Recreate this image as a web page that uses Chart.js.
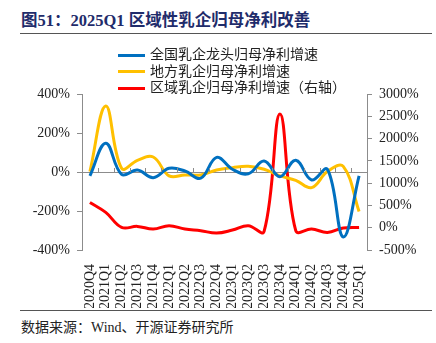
<!DOCTYPE html>
<html lang="zh">
<head>
  <meta charset="UTF-8">
  <title>图51</title>
  <script src="https://cdn.jsdelivr.net/npm/chart.js"></script>
  <style>
    body { margin: 0; width: 436px; height: 343px; background: #fff; position: relative; overflow: hidden; }
    .title { position: absolute; left: 21px; top: 7px; font: bold 16.5px "Liberation Serif", "Noto Sans CJK SC", serif; color: #1f2c6b; white-space: nowrap; }
    .rule { position: absolute; left: 20px; width: 412px; height: 1px; background: #555; }
    .src { position: absolute; left: 21px; top: 316px; font: 14px "Liberation Serif", "Noto Sans CJK SC", serif; color: #222; white-space: nowrap; }
    #wrap { position: absolute; left: 0; top: 40px; width: 436px; height: 268px; }
    #legend { position: absolute; left: 118px; top: 45px; font: 14px "Noto Sans CJK SC", sans-serif; color: #222; }
    #legend div { height: 16.5px; line-height: 16.5px; white-space: nowrap; }
    #legend i { display: inline-block; width: 27px; height: 3px; vertical-align: middle; margin-right: 5px; }
  </style>
</head>
<body>
  <div class="title">图51：2025Q1 区域性乳企归母净利改善</div>
  <div class="rule" style="top:33px"></div>
  <div id="wrap"><canvas id="c"></canvas></div>
  <div id="legend"></div>
  <div class="rule" style="top:310px"></div>
  <div class="src">数据来源：Wind、开源证券研究所</div>
  <script>
    const quarters = ['2020Q4','2021Q1','2021Q2','2021Q3','2021Q4','2022Q1','2022Q2','2022Q3','2022Q4',
                      '2023Q1','2023Q2','2023Q3','2023Q4','2024Q1','2024Q2','2024Q3','2024Q4','2025Q1'];
    const nationalLeaders = [-20,147,-12,10,-29,19,5,-32,75,14,-9,56,-24,60,-41,14,-333,-20];
    const localDairy = [2,338,19,60,77,-20,-15,-15,10,22,29,14,-20,-43,-80,2,29,-203];
    const regionalDairy = [567,343,7,30,-30,45,-30,-67,-120,-52,45,-83,2549,-67,-30,-105,-7,7];
    const seriesNames = ['全国乳企龙头归母净利增速','地方乳企归母净利增速','区域乳企归母净利增速（右轴）'];
    const seriesColors = ['#0070c0','#ffc000','#ff0000'];

    const axisGray = '#8c8c8c';
    const tickFont = { family: 'Liberation Serif', size: 14 };

    // little upward ticks on the zero line between categories
    const zeroTicks = {
      id: 'zeroTicks',
      afterDatasetsDraw(chart) {
        const x = chart.scales.x, y = chart.scales.y, ctx = chart.ctx;
        const y0 = y.getPixelForValue(0);
        const half = (x.getPixelForValue(1) - x.getPixelForValue(0)) / 2;
        ctx.save();
        ctx.strokeStyle = axisGray;
        ctx.lineWidth = 1;
        ctx.beginPath();
        for (let i = 1; i < quarters.length; i++) {
          const px = Math.round(x.getPixelForValue(i) - half) + 0.5;
          ctx.moveTo(px, y0);
          ctx.lineTo(px, y0 - 4);
        }
        ctx.stroke();
        ctx.restore();
      }
    };

    const chart = new Chart(document.getElementById('c'), {
      type: 'line',
      data: {
        labels: quarters,
        datasets: [
          { label: seriesNames[0], data: nationalLeaders, borderColor: seriesColors[0], yAxisID: 'y' },
          { label: seriesNames[1], data: localDairy, borderColor: seriesColors[1], yAxisID: 'y' },
          { label: seriesNames[2], data: regionalDairy, borderColor: seriesColors[2], yAxisID: 'y1' }
        ].map(d => Object.assign(d, { borderWidth: 3, pointRadius: 0, tension: 0.4, fill: false }))
      },
      options: {
        responsive: true,
        maintainAspectRatio: false,
        animation: false,
        layout: { padding: { top: 54, bottom: 0, left: 0, right: 0 } },
        plugins: { legend: { display: false }, tooltip: { enabled: false } },
        scales: {
          x: {
            offset: true,
            grid: { display: false },
            border: { display: false },
            ticks: { font: tickFont, color: '#222', minRotation: 90, maxRotation: 90, padding: 6, autoSkip: false },
            afterFit(s) { s.height = 58; }
          },
          y: {
            position: 'left',
            min: -400, max: 400,
            ticks: { stepSize: 200, font: tickFont, color: '#222', padding: 7, callback: v => v + '%' },
            grid: {
              color: c => c.tick && c.tick.value === 0 ? axisGray : 'rgba(0,0,0,0)',
              tickColor: axisGray, tickLength: 5, lineWidth: 1
            },
            border: { color: axisGray },
            afterFit(s) { s.width = 82; }
          },
          y1: {
            position: 'right',
            min: -500, max: 3000,
            ticks: { stepSize: 500, font: tickFont, color: '#222', padding: 7, callback: v => v + '%' },
            grid: { drawOnChartArea: false, tickColor: axisGray, tickLength: 5 },
            border: { color: axisGray },
            afterFit(s) { s.width = 69; }
          }
        }
      },
      plugins: [zeroTicks]
    });

    const legend = document.getElementById('legend');
    chart.data.datasets.forEach(d => {
      const row = document.createElement('div');
      row.innerHTML = `<i style="background:${d.borderColor}"></i>${d.label}`;
      legend.appendChild(row);
    });
  </script>
</body>
</html>
